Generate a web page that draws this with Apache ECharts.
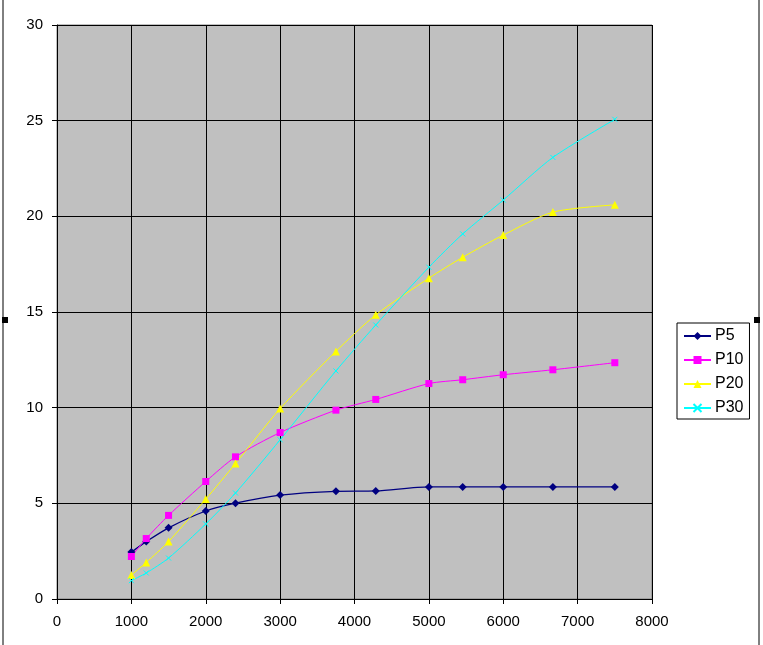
<!DOCTYPE html>
<html><head><meta charset="utf-8">
<script src="https://cdn.jsdelivr.net/npm/echarts@6/dist/echarts.min.js"></script>
<style>html,body{margin:0;padding:0;background:#fff}#c{width:763px;height:645px}</style>
</head><body><div id="c"></div>
<script>
var xValues = [1000, 1200, 1500, 2000, 2400, 3000, 3750, 4286, 5000, 5455, 6000, 6667, 7500];
var p5  = [2.45, 3.0, 3.72, 4.6, 5.01, 5.43, 5.63, 5.65, 5.86, 5.86, 5.86, 5.86, 5.86];
var p10 = [2.22, 3.16, 4.37, 6.14, 7.43, 8.7, 9.87, 10.43, 11.26, 11.46, 11.72, 11.98, 12.35];
var p20 = [1.25, 1.91, 3.0, 5.22, 7.08, 9.95, 12.94, 14.85, 16.77, 17.86, 19.02, 20.22, 20.6];
var p30 = [0.96, 1.36, 2.14, 3.92, 5.54, 8.32, 11.92, 14.32, 17.34, 19.08, 20.85, 23.08, 25.07];
var seriesNames = ['P5', 'P10', 'P20', 'P30'];
var yTicks = {min: 0, max: 30, interval: 5};
var xTicks = {min: 0, max: 8000, interval: 1000};

function pairs(ys){ return xValues.map(function(x,i){ return [x, ys[i]]; }); }
var font = 'Liberation Sans, Arial, sans-serif';
var xMark = 'path://M0,0L10,10M10,0L0,10';
function mk(name, data, color, symbol, size, lw){
  return {
    name: name, type: 'line', data: pairs(data), smooth: 0.25,
    symbol: symbol, symbolSize: size, showSymbol: true,
    lineStyle: {color: color, width: lw},
    itemStyle: {color: color, borderColor: color, borderWidth: symbol === xMark ? 1 : 0},
    emphasis: {disabled: true}, animation: false
  };
}
var chart = echarts.init(document.getElementById('c'));
chart.setOption({
  backgroundColor: '#ffffff',
  animation: false,
  grid: {left: 57, top: 25, right: 111, bottom: 46, show: true, backgroundColor: '#C0C0C0', borderColor: '#808080', borderWidth: 1},
  xAxis: {
    type: 'value', min: xTicks.min, max: xTicks.max, interval: xTicks.interval,
    axisLine: {show: true, onZero: false, lineStyle: {color: '#000', width: 1}},
    axisTick: {show: true, length: 5, lineStyle: {color: '#000'}},
    axisLabel: {color: '#000', fontFamily: font, fontSize: 15, margin: 15, formatter: function(v){ return String(v); }},
    splitLine: {show: true, lineStyle: {color: '#000', width: 1}}
  },
  yAxis: {
    type: 'value', min: yTicks.min, max: yTicks.max, interval: yTicks.interval,
    axisLine: {show: true, lineStyle: {color: '#000', width: 1}},
    axisTick: {show: true, length: 5, lineStyle: {color: '#000'}},
    axisLabel: {color: '#000', fontFamily: font, fontSize: 15, margin: 14},
    splitLine: {show: true, lineStyle: {color: '#000', width: 1}}
  },
  legend: {
    orient: 'vertical', left: 677, top: 323,
    backgroundColor: '#fff', borderColor: '#000', borderWidth: 1,
    padding: [5, 6, 3, 6], itemWidth: 27, itemHeight: 10, itemGap: 8,
    textStyle: {color: '#000', fontFamily: font, fontSize: 16, lineHeight: 16, padding: [0,0,0,-1]},
    data: seriesNames
  },
  series: [
    mk(seriesNames[0], p5, '#000080', 'diamond', 8, 1.3),
    mk(seriesNames[1], p10, '#FF00FF', 'rect', 7, 1),
    mk(seriesNames[2], p20, '#FFFF00', 'triangle', 8, 1),
    mk(seriesNames[3], p30, '#00FFFF', xMark, 5, 1)
  ],
  graphic: [
    {type: 'line', shape: {x1: 3, y1: 0, x2: 3, y2: 645}, style: {stroke: '#000', lineWidth: 1}},
    {type: 'line', shape: {x1: 759, y1: 0, x2: 759, y2: 645}, style: {stroke: '#000', lineWidth: 1}},
    {type: 'rect', shape: {x: 2, y: 317, width: 6, height: 6}, style: {fill: '#000'}},
    {type: 'rect', shape: {x: 754, y: 317, width: 6, height: 6}, style: {fill: '#000'}}
  ]
});
</script></body></html>
